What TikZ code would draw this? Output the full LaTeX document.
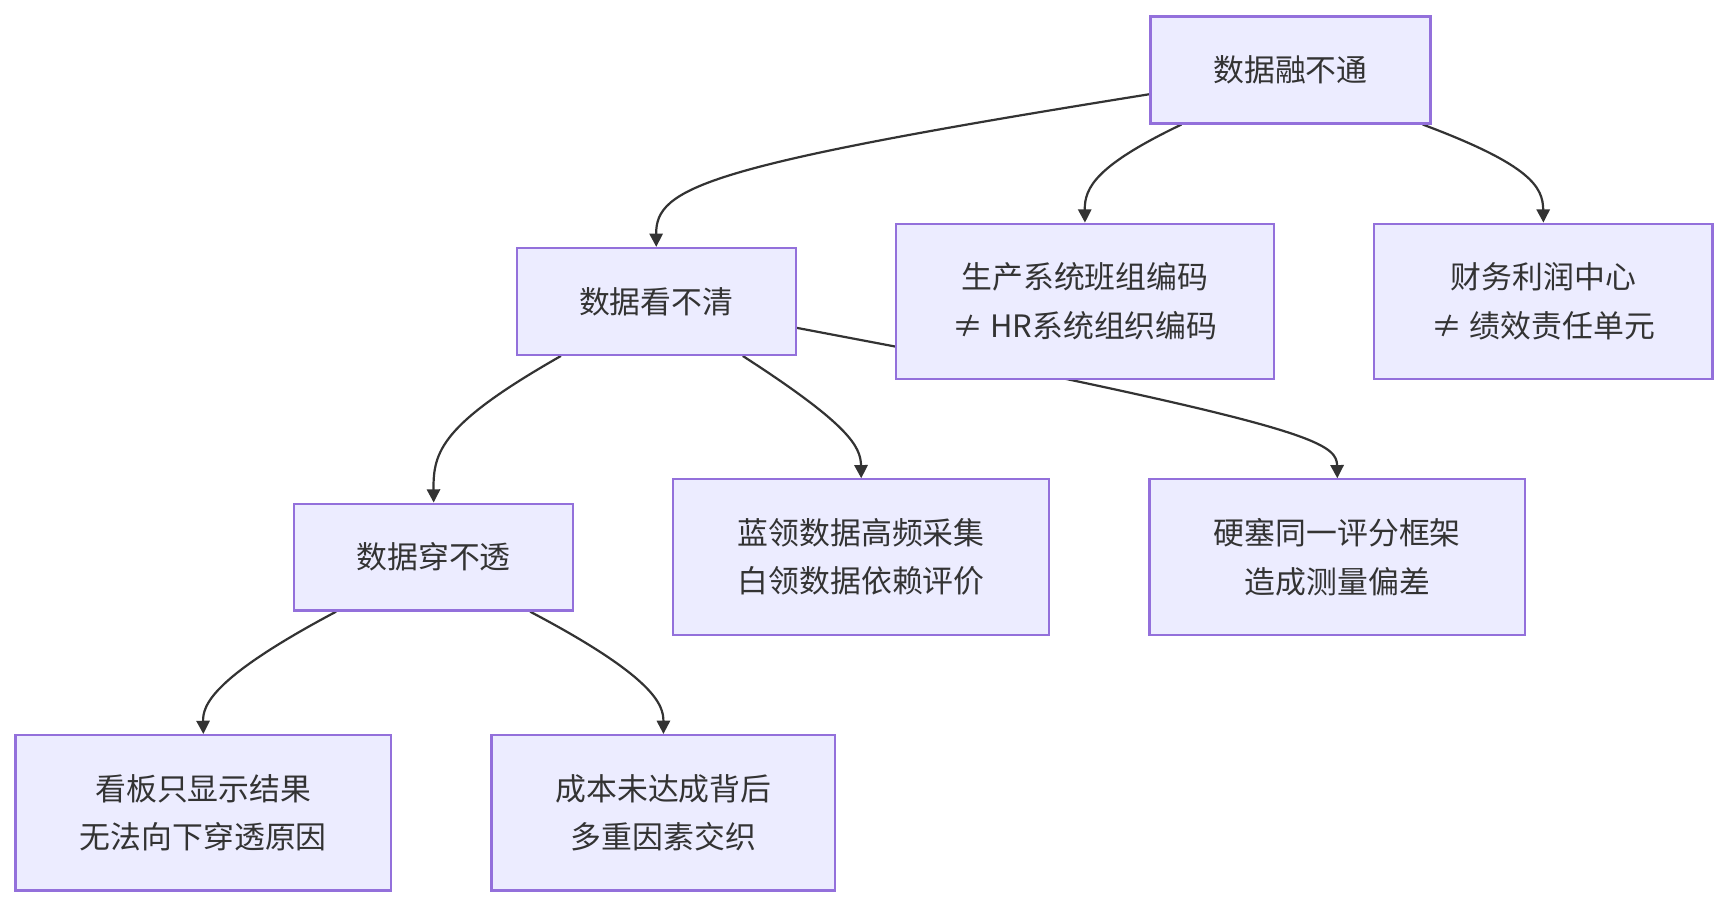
\documentclass[tikz,border=0pt]{standalone}
\usepackage{fontspec}
\setmainfont{Noto Sans CJK SC}
\usetikzlibrary{arrows.meta,calc,backgrounds}
\begin{document}
\begin{tikzpicture}[x=0.5pt,y=-0.5pt,
  box/.style={draw=boxborder,fill=boxfill,line width=1pt,inner sep=0pt,align=center,
    text=txt,font=\fontsize{14pt}{22pt}\selectfont},
  edge/.style={draw=edgec,line width=1pt,-{Triangle[length=6pt,width=6pt]}}]
\definecolor{boxfill}{HTML}{ECECFF}
\definecolor{boxborder}{HTML}{9370DB}
\definecolor{txt}{HTML}{333333}
\definecolor{edgec}{HTML}{333333}
\useasboundingbox (0,0) rectangle (1568,824);
\node[box,minimum width=127pt,minimum height=48.5pt] (A) at (1171,63.5) {数据融不通};
\node[box,minimum width=126.5pt,minimum height=48.5pt] (B) at (595.5,273.5) {数据看不清};
\node[box,minimum width=171.5pt,minimum height=70.5pt] (C) at (984.5,273.5) {生产系统班组编码\\≠ HR系统组织编码};
\node[box,minimum width=153.5pt,minimum height=70.5pt] (D) at (1400.5,273.5) {财务利润中心\\≠ 绩效责任单元};
\node[box,minimum width=126.5pt,minimum height=48.5pt] (E) at (393.5,505.5) {数据穿不透};
\node[box,minimum width=170.5pt,minimum height=70.5pt] (F) at (781.5,505.5) {蓝领数据高频采集\\白领数据依赖评价};
\node[box,minimum width=170.5pt,minimum height=70.5pt] (G) at (1213.5,505.5) {硬塞同一评分框架\\造成测量偏差};
\node[box,minimum width=170.5pt,minimum height=70.5pt] (H) at (184.5,737.5) {看板只显示结果\\无法向下穿透原因};
\node[box,minimum width=156pt,minimum height=70.5pt] (I) at (602,737.5) {成本未达成背后\\多重因素交织};
\begin{scope}[on background layer]
\draw[edge] ($(A.west)+(0,22)$) .. controls (640,150) and (595,170) .. (B.north);
\draw[edge] ($(A.south west)+(29,0)$) .. controls (995,150) and (984,170) .. (C.north);
\draw[edge] ($(A.south east)+(-8,0)$) .. controls (1390,150) and (1400,170) .. (D.north);
\draw[edge] ($(B.south west)+(41,0)$) .. controls (400,385) and (393,410) .. (E.north);
\draw[edge] ($(B.south west)+(206,0)$) .. controls (770,385) and (781,405) .. (F.north);
\draw[edge] ($(B.east)+(0,24)$) -- (968,344) .. controls (1195,392) and (1213,405) .. (G.north);
\draw[edge] ($(E.south west)+(39,0)$) .. controls (192,615) and (184,640) .. (H.north);
\draw[edge] ($(E.south west)+(215,0)$) .. controls (595,615) and (602,640) .. (I.north);
\end{scope}
\end{tikzpicture}
\end{document}
